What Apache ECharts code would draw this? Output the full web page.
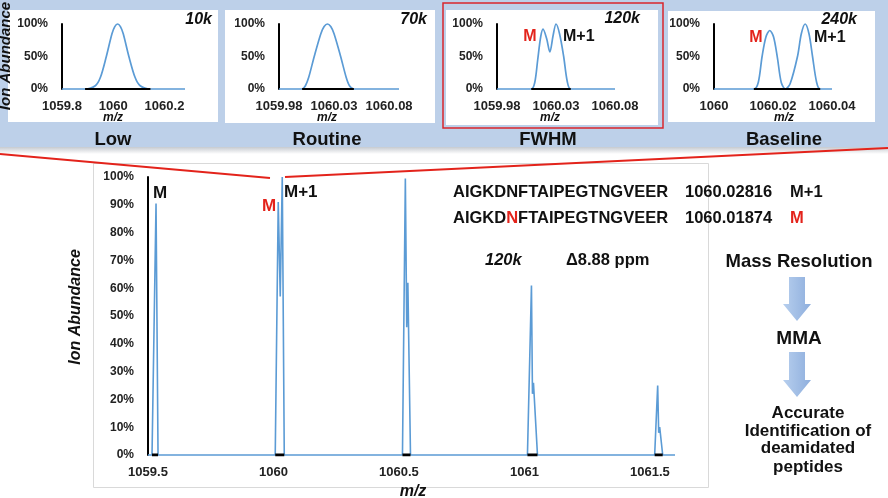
<!DOCTYPE html>
<html>
<head>
<meta charset="utf-8">
<title>Mass resolution and deamidation</title>
<script src="https://cdn.jsdelivr.net/npm/echarts@6/dist/echarts.min.js"></script>
<style>
  html, body { margin: 0; padding: 0; background: #fff; }
  #chart { width: 888px; height: 498px; }
</style>
</head>
<body>
<div id="chart"></div>
<script>
// --- data (m/z, % ion abundance) ---
var lowMz = [1059.80, 1059.89, 1059.93, 1059.95, 1059.973, 1059.995, 1060.006, 1060.017, 1060.028, 1060.039, 1060.061, 1060.085, 1060.105, 1060.145, 1060.28];
var lowAbund = [0, 0, 5, 18, 50, 85, 96, 100, 96, 85, 50, 18, 5, 0, 0];
var lowBase = [1059.89, 1060.145];

var routineMz = [1059.98, 1060.001, 1060.004, 1060.007, 1060.012, 1060.018, 1060.021, 1060.024, 1060.027, 1060.030, 1060.036, 1060.041, 1060.044, 1060.048, 1060.089];
var routineAbund = [0, 0, 5, 18, 50, 85, 96, 100, 96, 85, 50, 18, 5, 0, 0];
var routineBase = [1060.001, 1060.048];

var fwhmMz = [1059.98, 1060.009, 1060.012, 1060.0145, 1060.017, 1060.019, 1060.022, 1060.0248, 1060.0275, 1060.030, 1060.033, 1060.0365, 1060.0395, 1060.0425, 1060.08];
var fwhmAbund = [0, 0, 10, 45, 80, 92, 78, 57, 82, 100, 85, 50, 12, 0, 0];
var fwhmBase = [1060.009, 1060.0425];

var baselineMz = [1060, 1060.0135, 1060.0150, 1060.0163, 1060.0176, 1060.0189, 1060.0202, 1060.0215, 1060.0228, 1060.0242,
  1060.0258, 1060.0283, 1060.0296, 1060.0309, 1060.0322, 1060.0334, 1060.0348, 1060.036, 1060.04];
var baselineAbund = [0, 0, 10, 50, 80, 90, 80, 48, 10, 0, 8, 50, 85, 100, 85, 50, 10, 0, 0];
var baselineBase = [1060.0135, 1060.036];

// main spectrum, isotope envelope at 120k
var mainMz = [1059.5, 1059.516, 1059.532, 1059.540,
  1060.007, 1060.019, 1060.027, 1060.035, 1060.043,
  1060.514, 1060.5255, 1060.531, 1060.5355, 1060.546,
  1061.012, 1061.028, 1061.032, 1061.036, 1061.052,
  1061.519, 1061.531, 1061.535, 1061.539, 1061.551, 1061.6];
var mainAbund = [0, 0, 90.5, 0,
  0, 91, 57, 100, 0,
  0, 99.5, 46, 62, 0,
  0, 61, 22, 26, 0,
  0, 25, 8, 10, 0, 0];
var mainBases = [[1059.516, 1059.540], [1060.007, 1060.043], [1060.514, 1060.546], [1061.012, 1061.052], [1061.519, 1061.551]];

var FONT = '"Liberation Sans", Arial, sans-serif';
var BLUE = '#5b9bd5';
var RED = '#e3231b';

function zip(xs, ys) {
  return xs.map(function (x, i) { return [x, ys[i]]; });
}
function font(size, italic) {
  return (italic ? 'italic ' : '') + 'bold ' + size + 'px ' + FONT;
}
// plain numbers, no thousands separator
function mzLabel(v) {
  return String(parseFloat(v.toFixed(5)));
}
function txt(t, x, y, size, opt) {
  opt = opt || {};
  var el = {
    type: 'text', z: 20,
    x: x, y: y,
    rotation: opt.rotation || 0,
    style: {
      text: t, font: font(size, opt.italic),
      fill: opt.color || '#111',
      textAlign: opt.align || 'left',
      textVerticalAlign: 'middle'
    }
  };
  if (opt.rich) el.style.rich = opt.rich;
  return el;
}

var panels = [
  { mz: lowMz, ab: lowAbund, base: lowBase, min: 1059.8, max: 1060.28, interval: 0.2, left: 62, width: 123, maxLabel: false },
  { mz: routineMz, ab: routineAbund, base: routineBase, min: 1059.98, max: 1060.089, interval: 0.05, left: 279, width: 120, maxLabel: false },
  { mz: fwhmMz, ab: fwhmAbund, base: fwhmBase, min: 1059.98, max: 1060.08, interval: 0.05, left: 497, width: 118, maxLabel: true },
  { mz: baselineMz, ab: baselineAbund, base: baselineBase, min: 1060, max: 1060.04, interval: 0.02, left: 714, width: 118, maxLabel: true }
];

var grids = [], xAxes = [], yAxes = [], series = [];

panels.forEach(function (p, i) {
  grids.push({ left: p.left, top: 24, width: p.width, height: 65 });
  xAxes.push({
    type: 'value', gridIndex: i, min: p.min, max: p.max, interval: p.interval,
    axisLine: { show: false }, axisTick: { show: false }, splitLine: { show: false },
    axisLabel: { formatter: mzLabel, fontFamily: FONT, fontWeight: 'bold', fontSize: 13, color: '#222', margin: 11, showMaxLabel: p.maxLabel, showMinLabel: true }
  });
  yAxes.push({
    type: 'value', gridIndex: i, min: 0, max: 100, interval: 50,
    axisLine: { show: true, lineStyle: { color: '#000', width: 2 } },
    axisTick: { show: false }, splitLine: { show: false },
    axisLabel: { formatter: '{value}%', fontFamily: FONT, fontWeight: 'bold', fontSize: 12, color: '#222', margin: 14 }
  });
  series.push({
    type: 'line', xAxisIndex: i, yAxisIndex: i, data: zip(p.mz, p.ab),
    smooth: 0.3, symbol: 'none', clip: false,
    lineStyle: { color: BLUE, width: 1.7 }, z: 3
  });
  series.push({
    type: 'line', xAxisIndex: i, yAxisIndex: i, data: [[p.base[0], 0], [p.base[1], 0]],
    symbol: 'none', lineStyle: { color: '#000', width: 2 }, z: 4
  });
});

// main spectrum
grids.push({ left: 148, top: 177, width: 527, height: 278 });
xAxes.push({
  type: 'value', gridIndex: 4, min: 1059.5, max: 1061.6, interval: 0.5,
  axisLine: { show: false }, axisTick: { show: false }, splitLine: { show: false },
  axisLabel: { formatter: mzLabel, fontFamily: FONT, fontWeight: 'bold', fontSize: 13, color: '#222', margin: 11, showMaxLabel: false }
});
yAxes.push({
  type: 'value', gridIndex: 4, min: 0, max: 100, interval: 10,
  axisLine: { show: true, lineStyle: { color: '#000', width: 2 } },
  axisTick: { show: false }, splitLine: { show: false },
  axisLabel: { formatter: '{value}%', fontFamily: FONT, fontWeight: 'bold', fontSize: 12, color: '#222', margin: 14 }
});
series.push({
  type: 'line', xAxisIndex: 4, yAxisIndex: 4, data: zip(mainMz, mainAbund),
  symbol: 'none', clip: false, lineStyle: { color: BLUE, width: 1.6 }, z: 3
});
mainBases.forEach(function (b) {
  series.push({
    type: 'line', xAxisIndex: 4, yAxisIndex: 4, data: [[b[0], 0], [b[1], 0]],
    symbol: 'none', lineStyle: { color: '#000', width: 3 }, z: 4
  });
});

var arrowFill = new echarts.graphic.LinearGradient(0, 0, 1, 0, [
  { offset: 0, color: '#b7cfee' }, { offset: 1, color: '#8eaedd' }
]);

var graphics = [
  // top band + panels
  { type: 'rect', z: -5, shape: { x: 0, y: 0, width: 888, height: 148 }, style: { fill: '#bdd0e9' } },
  { type: 'rect', z: -5, shape: { x: 0, y: 147, width: 888, height: 7 },
    style: { fill: new echarts.graphic.LinearGradient(0, 0, 0, 1, [{ offset: 0, color: '#c6cad0' }, { offset: 1, color: '#ffffff' }]) } },
  { type: 'rect', z: -4, shape: { x: 8, y: 10, width: 210, height: 112 }, style: { fill: '#fff' } },
  { type: 'rect', z: -4, shape: { x: 225, y: 10, width: 210, height: 113 }, style: { fill: '#fff' } },
  { type: 'rect', z: -4, shape: { x: 446, y: 10, width: 212, height: 115 }, style: { fill: '#fff' } },
  { type: 'rect', z: -4, shape: { x: 668, y: 11, width: 207, height: 111 }, style: { fill: '#fff' } },
  { type: 'rect', z: 10, shape: { x: 443, y: 3, width: 220, height: 125 }, style: { fill: 'none', stroke: '#d9262c', lineWidth: 1.5 } },
  // main frame
  { type: 'rect', z: -4, shape: { x: 93.5, y: 163.5, width: 615, height: 324 }, style: { fill: 'none', stroke: '#d9d9d9', lineWidth: 1 } },
  // zoom lines
  { type: 'line', z: 10, shape: { x1: 0, y1: 154, x2: 270, y2: 178 }, style: { stroke: RED, lineWidth: 2 } },
  { type: 'line', z: 10, shape: { x1: 285, y1: 177, x2: 888, y2: 148 }, style: { stroke: RED, lineWidth: 2 } },
  // arrows
  { type: 'polygon', z: 5, shape: { points: [[789, 277], [805, 277], [805, 304], [811, 304], [797, 321], [783, 304], [789, 304]] }, style: { fill: arrowFill } },
  { type: 'polygon', z: 5, shape: { points: [[789, 352], [805, 352], [805, 380], [811, 380], [797, 397], [783, 380], [789, 380]] }, style: { fill: arrowFill } },

  // top panel texts
  txt('Ion Abundance', 6, 56, 15, { italic: true, align: 'center', rotation: Math.PI / 2 }),
  txt('10k', 212, 20, 16, { italic: true, align: 'right' }),
  txt('70k', 427, 20, 16, { italic: true, align: 'right' }),
  txt('120k', 640, 19, 16, { italic: true, align: 'right' }),
  txt('240k', 857, 20, 16, { italic: true, align: 'right' }),
  txt('M', 530, 37, 16, { color: RED, align: 'center' }),
  txt('M+1', 563, 37, 16),
  txt('M', 756, 38, 16, { color: RED, align: 'center' }),
  txt('M+1', 814, 38, 16),
  txt('m/z', 113, 118, 12, { italic: true, align: 'center' }),
  txt('m/z', 327, 118, 12, { italic: true, align: 'center' }),
  txt('m/z', 550, 118, 12, { italic: true, align: 'center' }),
  txt('m/z', 784, 118, 12, { italic: true, align: 'center' }),
  txt('Low', 113, 140, 18.5, { align: 'center' }),
  txt('Routine', 327, 140, 18.5, { align: 'center' }),
  txt('FWHM', 548, 140, 18.5, { align: 'center' }),
  txt('Baseline', 784, 140, 18.5, { align: 'center' }),

  // main chart texts
  txt('Ion Abundance', 76, 307, 16, { italic: true, align: 'center', rotation: Math.PI / 2 }),
  txt('m/z', 413, 492, 16, { italic: true, align: 'center' }),
  txt('M', 153, 193, 17),
  txt('M', 262, 206, 17, { color: RED }),
  txt('M+1', 284, 192, 17),
  txt('AIGKDNFTAIPEGTNGVEER', 453, 192, 16.5),
  txt('1060.02816', 685, 192, 16.5),
  txt('M+1', 790, 192, 16.5),
  txt('AIGKD{r|N}FTAIPEGTNGVEER', 453, 218, 16.5, { rich: { r: { fill: RED, font: font(16.5) } } }),
  txt('1060.01874', 685, 218, 16.5),
  txt('M', 790, 218, 16.5, { color: RED }),
  txt('120k', 485, 260, 16.5, { italic: true }),
  txt('\u03948.88 ppm', 566, 260, 16.5),
  txt('Mass Resolution', 799, 262, 18.5, { align: 'center' }),
  txt('MMA', 799, 339, 19, { align: 'center' }),
  txt('Accurate', 808, 413, 17, { align: 'center' }),
  txt('Identification of', 808, 431, 17, { align: 'center' }),
  txt('deamidated', 808, 448, 17, { align: 'center' }),
  txt('peptides', 808, 467, 17, { align: 'center' })
];

var chart = echarts.init(document.getElementById('chart'));
chart.setOption({
  animation: false,
  backgroundColor: '#fff',
  grid: grids,
  xAxis: xAxes,
  yAxis: yAxes,
  series: series,
  graphic: { elements: graphics }
});
</script>
</body>
</html>
